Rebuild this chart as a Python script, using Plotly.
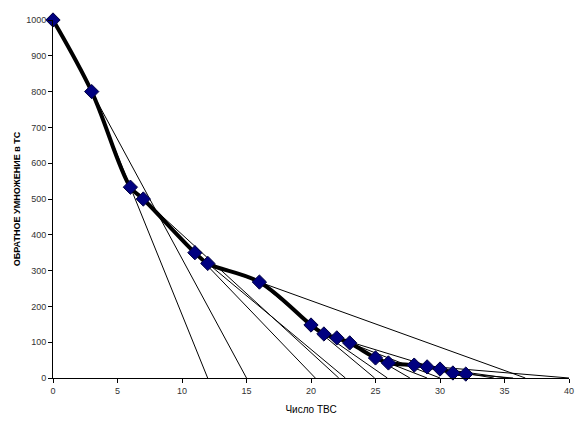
import plotly.graph_objects as go

# number of fuel assemblies loaded and the inverse multiplication value
n_fa = [0, 3, 6, 7, 11, 12, 16, 20, 21, 22, 23, 25, 26, 28, 29, 30, 31, 32]
inv_m = [1000, 800, 533, 500, 350, 320, 268, 148, 123, 112, 98, 56, 42, 36, 31, 25, 14, 11]

fig = go.Figure()

# extrapolation lines: through each pair of neighbouring points down to zero
for i in range(len(n_fa) - 1):
    x0, y0 = n_fa[i], inv_m[i]
    x1, y1 = n_fa[i + 1], inv_m[i + 1]
    slope = (y1 - y0) / (x1 - x0)
    x_cross = x1 - y1 / slope
    fig.add_trace(go.Scatter(
        x=[x0, x_cross],
        y=[y0, 0],
        mode='lines',
        line=dict(color='black', width=1),
        showlegend=False,
        hoverinfo='skip',
        cliponaxis=False
    ))

fig.add_trace(go.Scatter(
    x=n_fa,
    y=inv_m,
    mode='lines+markers',
    line=dict(color='black', width=4, shape='spline', smoothing=1),
    marker=dict(symbol='diamond', size=11, color='#000080',
                line=dict(color='#000040', width=1)),
    showlegend=False,
    cliponaxis=False
))

# page body adds 8px around the figure, so the figure is kept 8px smaller
fig.update_layout(
    width=580,
    height=419,
    paper_bgcolor='white',
    plot_bgcolor='white',
    margin=dict(l=45, r=19, t=12, b=49),
    font=dict(family='Liberation Sans, Arial', size=9, color='black'),
    xaxis=dict(
        range=[0, 40],
        dtick=5,
        showgrid=False,
        zeroline=False,
        showline=True,
        linecolor='black',
        linewidth=1,
        ticks='outside',
        ticklen=4,
        tickcolor='black',
        automargin=False,
        tickfont=dict(size=9, color='#333333'),
        title=dict(text='Число ТВС', font=dict(size=10), standoff=11),
    ),
    yaxis=dict(
        range=[0, 1000],
        dtick=100,
        showgrid=False,
        zeroline=False,
        showline=True,
        linecolor='black',
        linewidth=1,
        ticks='outside',
        ticklen=4,
        tickcolor='black',
        automargin=False,
        tickfont=dict(size=9, color='#333333'),
        title=dict(text='<b>ОБРАТНОЕ УМНОЖЕНИЕ в ТС</b>', font=dict(size=9), standoff=4),
    ),
)

fig.write_html("out.html")
